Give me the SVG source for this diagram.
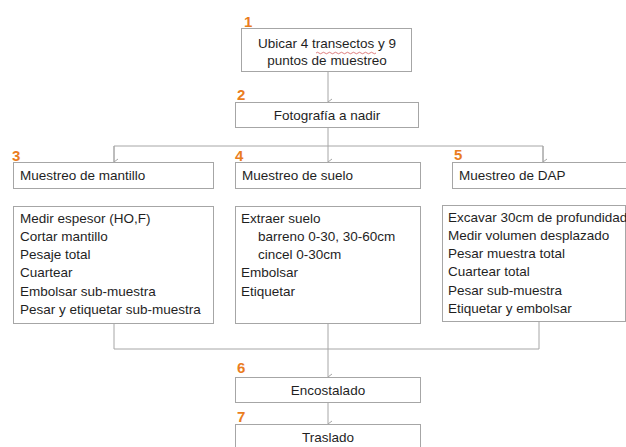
<svg xmlns="http://www.w3.org/2000/svg" width="626" height="447" viewBox="0 0 626 447">
<style>
.box{fill:#fff;stroke:#a6a6a6;stroke-width:1}
.t{font-family:"Liberation Sans",Arial,sans-serif;font-size:13.5px;fill:#1f1f1f}
.c{text-anchor:middle}
.n{font-family:"Liberation Sans",Arial,sans-serif;font-size:15px;font-weight:bold;fill:#ea7d1e}
.ln{fill:none;stroke:#a6a6a6;stroke-width:1}
</style>
<defs>
<marker id="ah" markerWidth="8" markerHeight="8" refX="4" refY="6" orient="auto" markerUnits="userSpaceOnUse">
<path d="M1,2 L4,6 L7,2" fill="none" stroke="#a6a6a6" stroke-width="1"/>
</marker>
</defs>
<rect width="626" height="447" fill="#fff"/>
<g id="connectors">
<line class="ln" x1="328" y1="72" x2="328" y2="102" marker-end="url(#ah)"/>
<path class="ln" d="M328,127 V146"/>
<path class="ln" d="M114,162 V146 H543 V162" />
<line class="ln" x1="114" y1="146" x2="114" y2="162" marker-end="url(#ah)"/>
<line class="ln" x1="328" y1="146" x2="328" y2="162" marker-end="url(#ah)"/>
<line class="ln" x1="543" y1="146" x2="543" y2="162" marker-end="url(#ah)"/>
<path class="ln" d="M114,323 V349 H539 V321"/>
<line class="ln" x1="328" y1="323" x2="328" y2="377" marker-end="url(#ah)"/>
<line class="ln" x1="328" y1="402" x2="328" y2="424" marker-end="url(#ah)"/>
</g>
<g id="n1">
<text class="n" x="244" y="27">1</text>
<rect class="box" x="241.5" y="28.5" width="170" height="43"/>
<text class="t c" x="327" y="48">Ubicar 4 transectos y 9</text>
<path d="M316,53 q1.5,-1.5 3,0 t3,0 t3,0 t3,0 t3,0 t3,0 t3,0 t3,0 t3,0 t3,0 t3,0 t3,0 t3,0 t3,0 t3,0 t3,0 t3,0 t3,0 t3,0 t3,0" fill="none" stroke="#d04a4a" stroke-width="0.7"/>
<text class="t c" x="327" y="65">puntos de muestreo</text>
</g>
<g id="n2">
<text class="n" x="237" y="100">2</text>
<rect class="box" x="235.5" y="102.5" width="183" height="25"/>
<text class="t c" x="327" y="119.5">Fotografía a nadir</text>
</g>
<g id="n3">
<text class="n" x="12" y="161">3</text>
<rect class="box" x="13.5" y="162.5" width="200" height="26"/>
<text class="t" x="20" y="180">Muestreo de mantillo</text>
</g>
<g id="n3list">
<rect class="box" x="13.5" y="206.5" width="200" height="117"/>
<text class="t" x="20" y="223">Medir espesor (HO,F)</text>
<text class="t" x="20" y="241">Cortar mantillo</text>
<text class="t" x="20" y="259">Pesaje total</text>
<text class="t" x="20" y="277">Cuartear</text>
<text class="t" x="20" y="296">Embolsar sub-muestra</text>
<text class="t" x="20" y="314">Pesar y etiquetar sub-muestra</text>
</g>
<g id="n4">
<text class="n" x="235" y="161">4</text>
<rect class="box" x="235.5" y="162.5" width="185" height="26"/>
<text class="t" x="242" y="180">Muestreo de suelo</text>
</g>
<g id="n4list">
<rect class="box" x="235.5" y="206.5" width="185" height="117"/>
<text class="t" x="241" y="223">Extraer suelo</text>
<text class="t" x="258" y="241">barreno 0-30, 30-60cm</text>
<text class="t" x="258" y="259">cincel  0-30cm</text>
<text class="t" x="241" y="277">Embolsar</text>
<text class="t" x="241" y="296">Etiquetar</text>
</g>
<g id="n5">
<text class="n" x="454" y="160">5</text>
<rect class="box" x="452.5" y="162.5" width="180" height="26"/>
<text class="t" x="459" y="180">Muestreo de DAP</text>
</g>
<g id="n5list">
<rect class="box" x="442.5" y="205.5" width="183" height="116"/>
<text class="t" x="448" y="222">Excavar 30cm  de profundidad</text>
<text class="t" x="448" y="240">Medir volumen desplazado</text>
<text class="t" x="448" y="258">Pesar muestra total</text>
<text class="t" x="448" y="276">Cuartear total</text>
<text class="t" x="448" y="295">Pesar sub-muestra</text>
<text class="t" x="448" y="313">Etiquetar y embolsar</text>
</g>
<g id="n6">
<text class="n" x="237" y="373">6</text>
<rect class="box" x="235.5" y="377.5" width="185" height="25"/>
<text class="t c" x="328" y="394.5">Encostalado</text>
</g>
<g id="n7">
<text class="n" x="237" y="422">7</text>
<rect class="box" x="235.5" y="424.5" width="185" height="30"/>
<text class="t c" x="328" y="442">Traslado</text>
</g>
</svg>
